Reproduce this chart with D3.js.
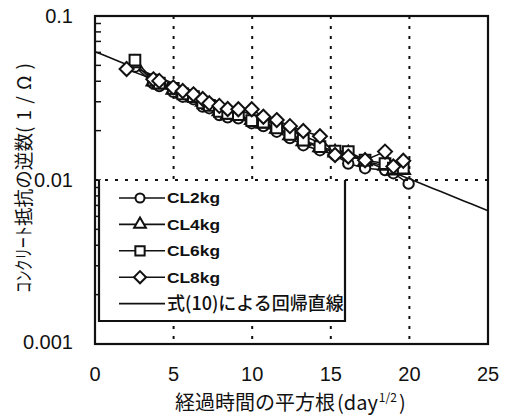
<!DOCTYPE html>
<html>
<head>
<meta charset="utf-8">
<script src="https://cdn.jsdelivr.net/npm/d3@7"></script>
<style>
  html, body { margin: 0; padding: 0; background: #fff; }
  svg { display: block; }
  .num { font-family: "Liberation Sans", Arial, sans-serif; font-size: 20px; fill: #111; }
  .jp { font-family: "Noto Sans CJK JP", "Noto Sans", sans-serif; fill: #111; }
</style>
</head>
<body>
<svg id="chart" width="511" height="416"></svg>
<script>
// Square root of elapsed days at each measurement
const sqrtDays = [2.01, 2.54, 3.71, 4.09, 4.98, 5.58, 6.26, 6.85, 7.27, 7.91, 8.44, 9.12, 9.97,
                  10.71, 11.56, 12.40, 13.25, 14.31, 15.27, 16.11, 17.18, 18.45, 18.98, 19.61, 19.95];

// Reciprocal of concrete resistance (1/Ω) for each chloride content
const cl2kg = [null, 0.0491, 0.0389, 0.0374, 0.0345, 0.0322, 0.0311, 0.0280, 0.0274, 0.0249, 0.0241, 0.0238, 0.0222,
               0.0213, 0.0197, 0.0180, 0.0163, 0.0152, 0.0142, 0.0126, 0.0118, 0.0115, 0.0110, null, 0.0095];
const cl4kg = [null, 0.0515, 0.0398, 0.0382, 0.0355, 0.0335, 0.0318, 0.0300, 0.0285, 0.0262, 0.0250, 0.0246, 0.0232,
               0.0220, 0.0205, 0.0187, 0.0172, 0.0158, 0.0147, 0.0145, 0.0130, 0.0122, 0.0114, 0.0115, null];
const cl6kg = [null, 0.0539, 0.0407, 0.0390, 0.0362, 0.0335, 0.0322, 0.0295, 0.0285, 0.0262, 0.0255, 0.0250, 0.0230,
               0.0225, 0.0208, 0.0190, 0.0175, 0.0160, 0.0150, 0.0149, 0.0132, 0.0126, 0.0118, 0.0118, null];
const cl8kg = [0.0475, null, 0.0411, 0.0402, 0.0367, 0.0349, 0.0333, 0.0312, 0.0294, 0.0283, 0.0271, 0.0270, 0.0270,
               0.0243, 0.0232, 0.0213, 0.0199, 0.0185, 0.0142, 0.0139, 0.0132, 0.0149, 0.0121, 0.0131, null];

const seriesNames = ["CL2kg", "CL4kg", "CL6kg", "CL8kg"];
const seriesValues = [cl2kg, cl4kg, cl6kg, cl8kg];
const seriesMarkers = ["circle", "triangle", "square", "diamond"];
const regressionLabel = "式(10)による回帰直線";

// Regression of eq.(10): y = a·exp(b·√t)
const regA = 0.0606;
const regB = -0.0893;

const xTicks = [0, 5, 10, 15, 20, 25];
const yTicks = [0.001, 0.01, 0.1];
const yTickLabels = ["0.001", "0.01", "0.1"];

const svg = d3.select("#chart");
const L = 95, R = 488, T = 16, B = 344;
const x = d3.scaleLinear().domain([0, 25]).range([L, R]);
const y = d3.scaleLog().domain([0.001, 0.1]).range([B, T]);

function markerPath(kind, s) {
  switch (kind) {
    case "circle": return d3.symbol(d3.symbolCircle, 85 * s)();
    case "triangle": return d3.symbol(d3.symbolTriangle, 80 * s)();
    case "square": return d3.symbol(d3.symbolSquare, 115 * s)();
    case "diamond": { const h = 7 * Math.sqrt(s); return `M0,${-h}L${h},0L0,${h}L${-h},0Z`; }
  }
}

const gridDash = "3,7";

// vertical grid lines
svg.append("g").selectAll("line").data([5, 10, 15, 20]).join("line")
  .attr("x1", d => x(d)).attr("x2", d => x(d))
  .attr("y1", T).attr("y2", B)
  .attr("stroke", "#111").attr("stroke-width", 2).attr("stroke-dasharray", gridDash);

// minor/major ticks on the log axis (inward)
const logTicks = [];
for (let e = -3; e <= -1; e++) {
  for (let m = 1; m <= 9; m++) {
    const v = m * Math.pow(10, e);
    if (v <= 0.1 + 1e-12) logTicks.push(v);
  }
}
svg.append("g").selectAll("line").data(logTicks).join("line")
  .attr("x1", L).attr("x2", L + 6)
  .attr("y1", d => y(d)).attr("y2", d => y(d))
  .attr("stroke", "#111").attr("stroke-width", 1.5);

// regression line
const regX = d3.range(0, 25.01, 0.5);
svg.append("path")
  .attr("d", d3.line().x(d => x(d)).y(d => y(regA * Math.exp(regB * d)))(regX))
  .attr("fill", "none").attr("stroke", "#111").attr("stroke-width", 1.6);

// measured series
seriesValues.forEach((vals, i) => {
  const pts = sqrtDays.map((t, j) => [t, vals[j]]).filter(p => p[1] != null);
  const g = svg.append("g");
  g.append("path")
    .attr("d", d3.line().x(p => x(p[0])).y(p => y(p[1]))(pts))
    .attr("fill", "none").attr("stroke", "#111").attr("stroke-width", 1.5);
  g.selectAll("path.m").data(pts).join("path").attr("class", "m")
    .attr("d", markerPath(seriesMarkers[i], 1))
    .attr("transform", p => `translate(${x(p[0])},${y(p[1])})`)
    .attr("fill", "#fff").attr("stroke", "#111").attr("stroke-width", 2);
});

// legend box
const lg = { x0: 99, y0: y(0.01), x1: 345, y1: 321 };
svg.append("rect")
  .attr("x", lg.x0).attr("y", lg.y0).attr("width", lg.x1 - lg.x0).attr("height", lg.y1 - lg.y0)
  .attr("fill", "#fff");
svg.append("path")
  .attr("d", `M${lg.x0},${lg.y0}V${lg.y1}H${lg.x1}V${lg.y0}`)
  .attr("fill", "none").attr("stroke", "#111").attr("stroke-width", 2.2);

// horizontal grid line at 0.01
svg.append("line")
  .attr("x1", L).attr("x2", R).attr("y1", y(0.01)).attr("y2", y(0.01))
  .attr("stroke", "#111").attr("stroke-width", 2).attr("stroke-dasharray", gridDash);

const legendItems = seriesNames.map((n, i) => ({ name: n, marker: seriesMarkers[i] }))
  .concat([{ name: regressionLabel, marker: null }]);
const lgRows = svg.append("g").selectAll("g").data(legendItems).join("g")
  .attr("transform", (d, i) => `translate(0,${198 + i * 26.4})`);
lgRows.append("line").attr("x1", 119).attr("x2", 165).attr("y1", 0).attr("y2", 0)
  .attr("stroke", "#111").attr("stroke-width", 1.6);
lgRows.filter(d => d.marker).append("path")
  .attr("d", d => markerPath(d.marker, 0.75))
  .attr("transform", "translate(140,0)")
  .attr("fill", "#fff").attr("stroke", "#111").attr("stroke-width", 2);
lgRows.filter(d => d.marker).append("text")
  .attr("class", "num").attr("x", 167).attr("y", 0).attr("dy", "0.36em")
  .style("font-size", "15px").style("font-weight", "bold")
  .attr("textLength", 53).attr("lengthAdjust", "spacingAndGlyphs")
  .text(d => d.name);
lgRows.filter(d => !d.marker).append("text")
  .attr("class", "jp").attr("x", 167).attr("y", 0).attr("dy", "0.36em")
  .style("font-size", "18px").style("font-weight", "500")
  .text(d => d.name);

// plot frame
svg.append("rect").attr("x", L).attr("y", T).attr("width", R - L).attr("height", B - T)
  .attr("fill", "none").attr("stroke", "#111").attr("stroke-width", 2.2);

// tick labels
svg.append("g").selectAll("text").data(yTicks).join("text")
  .attr("class", "num").attr("text-anchor", "end")
  .attr("x", 73).attr("y", d => y(d) + (d === 0.001 ? -2 : 0)).attr("dy", "0.36em")
  .text((d, i) => yTickLabels[i]);
svg.append("g").selectAll("text").data(xTicks).join("text")
  .attr("class", "num").attr("text-anchor", "middle")
  .attr("x", d => x(d)).attr("y", 374).attr("dy", "0.36em")
  .text(d => d);

// axis titles
const xt = svg.append("text").attr("class", "jp").attr("x", 175).attr("y", 410)
  .attr("text-anchor", "start").style("font-size", "20px");
xt.append("tspan").text("経過時間の平方根");
xt.append("tspan").attr("dx", 2).text("(day");
xt.append("tspan").attr("dx", 1).attr("dy", -8).style("font-size", "12px").text("1/2");
xt.append("tspan").attr("dx", 2).attr("dy", 8).text(")");

const yt = svg.append("text").attr("class", "jp")
  .attr("transform", "translate(31,293) rotate(-90)")
  .attr("text-anchor", "start").style("font-size", "19px");
yt.append("tspan").attr("textLength", 67).attr("lengthAdjust", "spacingAndGlyphs").text("コンクリート");
yt.append("tspan").attr("textLength", 93).attr("lengthAdjust", "spacingAndGlyphs").text("抵抗の逆数");
yt.append("tspan").attr("textLength", 70).attr("lengthAdjust", "spacing").text("(1/Ω)");
</script>
</body>
</html>
